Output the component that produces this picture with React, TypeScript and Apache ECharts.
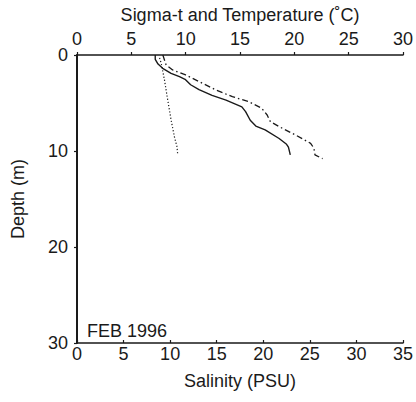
import React, { useEffect, useRef } from "react";
import * as echarts from "echarts";

const salinityDepth = [0, 0.45, 0.94, 1.39, 1.91, 2.26, 2.53, 3.1, 3.6, 4.2, 4.7, 5.4, 5.9, 6.8, 7.4, 7.8, 8.7, 9.3, 9.6, 10.4];
const salinity = [8.4, 8.4, 8.7, 9.2, 10.1, 11.0, 11.6, 12.2, 13.1, 14.5, 16.0, 17.7, 18.1, 18.6, 19.2, 20.2, 21.7, 22.5, 22.7, 22.9];

const sigmaDepth = [0, 1.04, 1.56, 2.08, 2.78, 3.65, 4.34, 4.86, 5.55, 6.25, 6.95, 7.64, 8.33, 9.2, 9.7, 10.4, 10.8];
const sigmaT = [7.9, 8.2, 8.8, 10.0, 11.25, 12.8, 14.3, 15.8, 17.0, 17.5, 17.8, 18.9, 20.1, 21.5, 21.8, 21.9, 22.6];

const tempDepth = [0.3, 0.87, 2.6, 4.7, 6.77, 8.5, 9.55, 10.4];
const temperature = [7.6, 7.75, 8.05, 8.35, 8.66, 8.96, 9.2, 9.27];

const FONT = "'Liberation Sans', Arial, Helvetica, sans-serif";
const INK = "#1a1a1a";

export default function App() {
  const ref = useRef<HTMLDivElement>(null);
  useEffect(() => {
    if (!ref.current) return;
    const chart = echarts.init(ref.current, null, { renderer: "svg" });
    const axisText = { color: INK, fontFamily: FONT, fontSize: 18 };
    chart.setOption({
      animation: false,
      backgroundColor: "#fff",
      textStyle: { fontFamily: FONT },
      grid: { left: 77, right: 11, top: 55, bottom: 59 },
      xAxis: [
        {
          type: "value",
          position: "bottom",
          min: 0,
          max: 35,
          interval: 5,
          name: "Salinity (PSU)",
          nameLocation: "middle",
          nameGap: 29,
          nameTextStyle: axisText,
          axisLine: { onZero: false, lineStyle: { color: INK, width: 1.5 } },
          axisTick: { show: true, inside: true, length: 3, lineStyle: { color: INK, width: 1.2 } },
          axisLabel: { ...axisText, margin: 2 },
          splitLine: { show: false },
        },
        {
          type: "value",
          position: "top",
          min: 0,
          max: 30,
          interval: 5,
          name: "Sigma-t and Temperature (˚C)",
          nameLocation: "middle",
          nameGap: 31,
          nameTextStyle: axisText,
          axisLine: { onZero: false, lineStyle: { color: INK, width: 1.5 } },
          axisTick: { show: true, length: 3, lineStyle: { color: INK, width: 1.2 } },
          axisLabel: { ...axisText, margin: 7 },
          splitLine: { show: false },
        },
      ],
      yAxis: {
        type: "value",
        inverse: true,
        min: 0,
        max: 30,
        interval: 10,
        name: "Depth (m)",
        nameLocation: "middle",
        nameGap: 50,
        nameTextStyle: axisText,
        axisLine: { show: true, onZero: false, lineStyle: { color: INK, width: 2 } },
        axisTick: { show: true, length: 3, lineStyle: { color: INK, width: 1.2 } },
        axisLabel: { ...axisText, margin: 9 },
        splitLine: { show: false },
      },
      graphic: [
        {
          type: "text",
          left: 87,
          top: 322,
          style: { text: "FEB 1996", fill: INK, font: `18px ${FONT}` },
        },
      ],
      series: [
        {
          name: "Salinity",
          type: "line",
          xAxisIndex: 0,
          data: salinity.map((v, i) => [v, salinityDepth[i]]),
          showSymbol: false,
          lineStyle: { color: INK, width: 1.4 },
        },
        {
          name: "Sigma-t",
          type: "line",
          xAxisIndex: 1,
          data: sigmaT.map((v, i) => [v, sigmaDepth[i]]),
          showSymbol: false,
          lineStyle: { color: INK, width: 1.3, type: [6, 3, 1.5, 3] },
        },
        {
          name: "Temperature",
          type: "line",
          xAxisIndex: 1,
          data: temperature.map((v, i) => [v, tempDepth[i]]),
          showSymbol: false,
          lineStyle: { color: INK, width: 1.2, type: [1.2, 2] },
        },
      ],
    });
    return () => chart.dispose();
  }, []);
  return <div ref={ref} style={{ width: 416, height: 402, position: "absolute", left: 0, top: 0 }} />;
}
